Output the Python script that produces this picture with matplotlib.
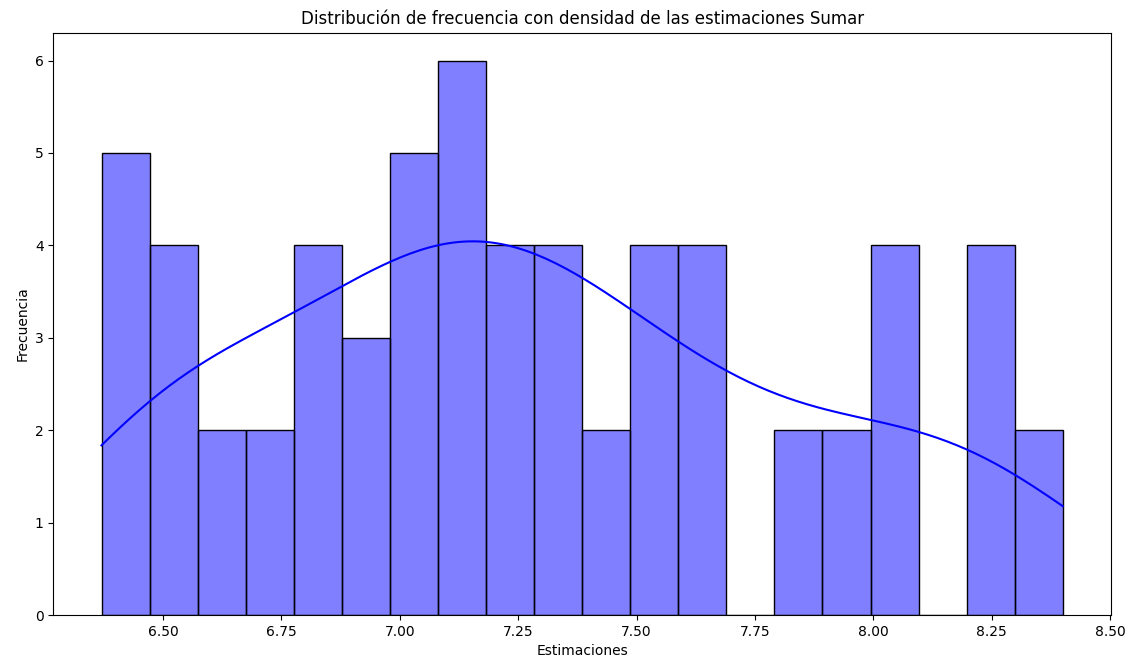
import matplotlib
matplotlib.use("Agg")
from matplotlib import pyplot as plt
import seaborn as sns

# estimaciones agrupadas por barra del histograma
estimaciones = [
    6.37, 6.40, 6.42, 6.45, 6.46,
    6.49, 6.51, 6.53, 6.56,
    6.60, 6.65,
    6.70, 6.74,
    6.79, 6.82, 6.84, 6.87,
    6.90, 6.93, 6.96,
    7.00, 7.02, 7.04, 7.06, 7.08,
    7.10, 7.12, 7.14, 7.16, 7.17, 7.18,
    7.21, 7.23, 7.26, 7.28,
    7.31, 7.33, 7.35, 7.37,
    7.40, 7.45,
    7.50, 7.53, 7.55, 7.57,
    7.60, 7.63, 7.65, 7.68,
    7.80, 7.85,
    7.90, 7.95,
    8.00, 8.03, 8.06, 8.09,
    8.20, 8.23, 8.26, 8.29,
    8.35, 8.40,
]

fig, ax = plt.subplots(figsize=(11.37, 6.7), dpi=100)
sns.histplot(estimaciones, bins=20, kde=True, color='blue', ax=ax)

ax.set_title("Distribución de frecuencia con densidad de las estimaciones Sumar")
ax.set_xlabel("Estimaciones")
ax.set_ylabel("Frecuencia")

fig.subplots_adjust(left=0.047, right=0.977, top=0.951, bottom=0.082)
fig.savefig("out.png")
